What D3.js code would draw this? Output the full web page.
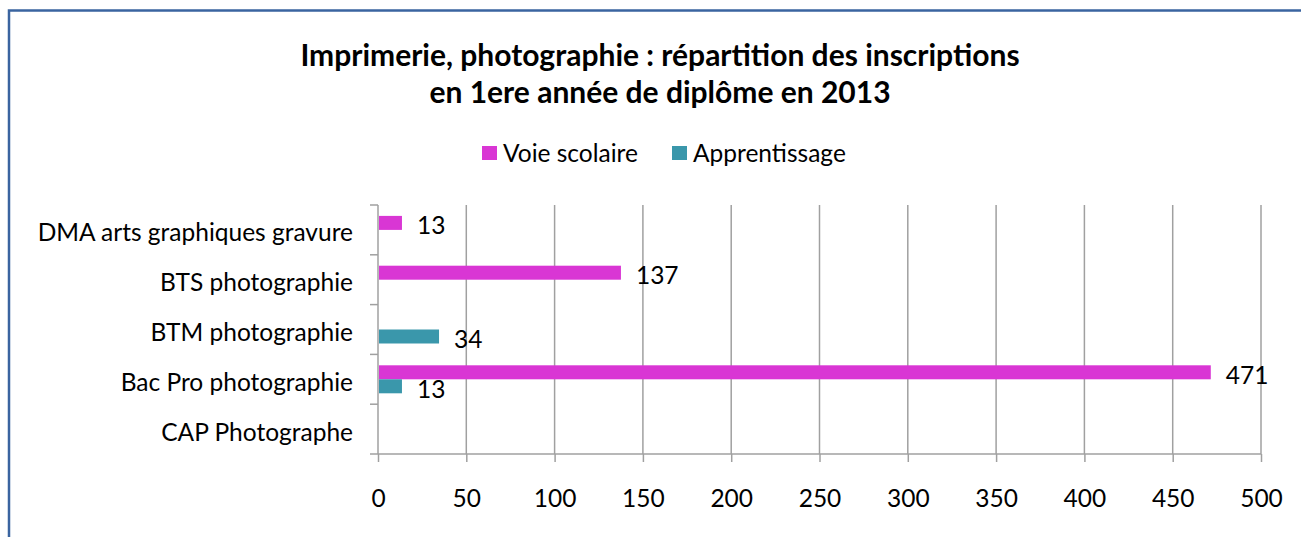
<!DOCTYPE html>
<html>
<head>
<meta charset="utf-8">
<script src="https://cdn.jsdelivr.net/npm/d3@7"></script>
<style>
  body { margin: 0; background: #fff; }
  svg text { font-family: Lato, "Open Sans", sans-serif; fill: #000; }
</style>
</head>
<body>
<svg id="chart"></svg>
<script>
// categories, top to bottom
const categories = ["DMA arts graphiques gravure", "BTS photographie", "BTM photographie", "Bac Pro photographie", "CAP Photographe"];
const seriesNames = ["Voie scolaire", "Apprentissage"];
const voieScolaire = [13, 137, null, 471, null];
const apprentissage = [null, null, 34, 13, null];
const xTicks = [0, 50, 100, 150, 200, 250, 300, 350, 400, 450, 500];
const titleLines = ["Imprimerie, photographie : répartition des inscriptions", "en 1ere année de diplôme en 2013"];

const width = 1301;
const height = 537;
const margin = { top: 205, right: 40, bottom: 83, left: 378 };
const colors = { "Voie scolaire": "#d936d4", "Apprentissage": "#3a97ab" };
const fontSize = "24.5px";

const svg = d3.select("#chart")
    .attr("width", width)
    .attr("height", height);

// outer frame (right and bottom are off the picture)
svg.append("path")
    .attr("d", "M9,537 V10.5 H1301")
    .attr("fill", "none")
    .attr("stroke", "#3a64a0")
    .attr("stroke-width", 2.5);

// title
svg.selectAll(".title")
    .data(titleLines)
    .enter()
    .append("text")
    .attr("class", "title")
    .attr("x", 660)
    .attr("y", (d, i) => 66 + i * 37)
    .attr("text-anchor", "middle")
    .style("font-size", "30px")
    .style("font-weight", "bold")
    .text(d => d);

// legend
const legendX = [482, 672];
const legend = svg.selectAll(".legend")
    .data(seriesNames)
    .enter()
    .append("g")
    .attr("class", "legend")
    .attr("transform", (d, i) => `translate(${legendX[i]}, 146)`);

legend.append("rect")
    .attr("width", 15)
    .attr("height", 14)
    .style("fill", d => colors[d]);

legend.append("text")
    .attr("x", 21)
    .attr("y", 16)
    .style("font-size", fontSize)
    .text(d => d);

// scales
const xScale = d3.scaleLinear()
    .domain([0, 500])
    .range([margin.left, 1261]);

const yScale = d3.scaleBand()
    .domain(categories)
    .range([margin.top, height - margin.bottom]);

// gridlines
svg.append("g")
    .selectAll("line")
    .data(xTicks.slice(1))
    .enter()
    .append("line")
    .attr("x1", d => xScale(d))
    .attr("x2", d => xScale(d))
    .attr("y1", margin.top)
    .attr("y2", height - margin.bottom)
    .attr("stroke", "#a0a0a0")
    .attr("stroke-width", 1.5);

// x axis
const xAxis = d3.axisBottom(xScale)
    .tickValues(xTicks)
    .tickSize(8);

const gx = svg.append("g")
    .attr("class", "x-axis")
    .attr("transform", `translate(0, ${height - margin.bottom})`)
    .call(xAxis);
gx.select(".domain").remove();
gx.append("line")
    .attr("x1", margin.left - 8)
    .attr("x2", xScale(500))
    .attr("stroke", "#a0a0a0")
    .attr("stroke-width", 1.5);
gx.selectAll(".tick line").attr("stroke", "#a0a0a0").attr("stroke-width", 1.5);
gx.selectAll(".tick text")
    .attr("y", 53)
    .attr("dy", null)
    .style("font-size", fontSize)
    .style("font-family", "Lato, 'Open Sans', sans-serif")
    .attr("fill", "#000");

// y axis
const yAxis = d3.axisLeft(yScale)
    .tickSize(0)
    .tickPadding(25);

const gy = svg.append("g")
    .attr("class", "y-axis")
    .attr("transform", `translate(${margin.left}, 0)`)
    .call(yAxis);
gy.select(".domain")
    .attr("stroke", "#a0a0a0")
    .attr("stroke-width", 1.5)
    .attr("d", `M0,${margin.top}V${height - margin.bottom}`);
gy.selectAll(".tick text")
    .attr("dy", null)
    .attr("y", 11.5)
    .style("font-size", fontSize)
    .style("font-family", "Lato, 'Open Sans', sans-serif")
    .attr("fill", "#000");

// category separators on the y axis
gy.append("g")
    .selectAll("line")
    .data(categories)
    .enter()
    .append("line")
    .attr("x1", -8)
    .attr("x2", 0)
    .attr("y1", d => yScale(d))
    .attr("y2", d => yScale(d))
    .attr("stroke", "#a0a0a0")
    .attr("stroke-width", 1.5);

// bars
const barH = 14;
const rows = [];
categories.forEach((c, i) => {
    rows.push({ cat: c, series: "Voie scolaire", value: voieScolaire[i], offset: -barH });
    rows.push({ cat: c, series: "Apprentissage", value: apprentissage[i], offset: 0 });
});
const shown = rows.filter(d => d.value !== null);
const barTop = d => yScale(d.cat) + yScale.bandwidth() / 2 + d.offset;

svg.append("g")
    .selectAll("rect")
    .data(shown)
    .enter()
    .append("rect")
    .attr("x", xScale(0) + 1)
    .attr("y", d => barTop(d))
    .attr("width", d => xScale(d.value) - xScale(0))
    .attr("height", barH)
    .attr("fill", d => colors[d.series]);

// value labels
svg.append("g")
    .selectAll("text")
    .data(shown)
    .enter()
    .append("text")
    .attr("x", d => xScale(d.value) + 16)
    .attr("y", d => barTop(d) + barH / 2 + 11.5)
    .style("font-size", fontSize)
    .text(d => d.value);
</script>
</body>
</html>
